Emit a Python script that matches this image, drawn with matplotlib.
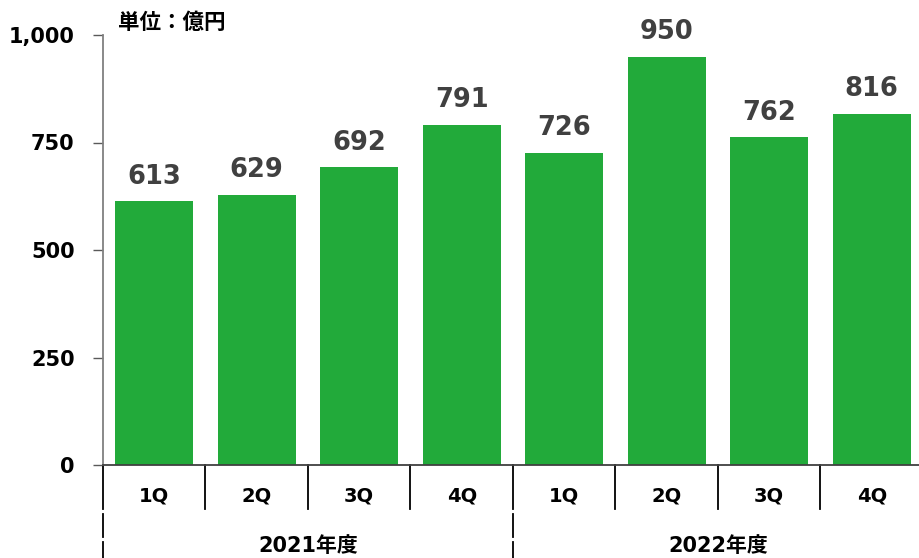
import matplotlib
matplotlib.use("Agg")
import matplotlib.pyplot as plt
from matplotlib.transforms import blended_transform_factory

quarters = ["1Q", "2Q", "3Q", "4Q", "1Q", "2Q", "3Q", "4Q"]
years = ["2021年度", "2022年度"]
values = [613, 629, 692, 791, 726, 950, 762, 816]
yticks = [0, 250, 500, 750, 1000]
ytick_labels = ["0", "250", "500", "750", "1,000"]
unit_label = "単位：億円"

plt.rcParams['font.family'] = ['DejaVu Sans', 'Noto Sans CJK JP']

W, H = 920, 558
fig = plt.figure(figsize=(W / 100, H / 100), dpi=100)
ax_left, ax_right, ax_bottom, ax_top = 103, 923, 465, 35
ax = fig.add_axes([ax_left / W, 1 - ax_bottom / H, (ax_right - ax_left) / W, (ax_bottom - ax_top) / H])

x = list(range(len(values)))
bar_color = "#22AA3A"
ax.bar(x, values, width=0.76, color=bar_color, zorder=2)
for xi, v in zip(x, values):
    ax.annotate(f"{v}", (xi, v), xytext=(0, 8.5), textcoords="offset points",
                ha="center", va="bottom", fontsize=18.5, fontweight="bold", color="#404040")

ax.set_xlim(-0.5, len(values) - 0.5)
ax.set_ylim(0, 1000)
ax.set_yticks(yticks)
ax.set_yticklabels(ytick_labels, fontsize=15, fontweight="bold", color="black")
ax.tick_params(axis="y", length=7, width=1, color="#595959", pad=13.5)
ax.set_xticks([])

for s in ["top", "right"]:
    ax.spines[s].set_visible(False)
ax.spines["left"].set_color("#808080")
ax.spines["left"].set_linewidth(1.3)
ax.spines["bottom"].set_color("#404040")
ax.spines["bottom"].set_linewidth(1.3)

trans = blended_transform_factory(ax.transData, ax.transAxes)
axh = ax_bottom - ax_top
def yfrac(px_below):
    return -px_below / axh

# quarter separators
for b in [0.5, 1.5, 2.5, 4.5, 5.5, 6.5]:
    ax.plot([b, b], [0, yfrac(44)], transform=trans, color="black", lw=1.3, clip_on=False)
# year separators (drawn as table-cell borders with small gaps)
for b in [-0.5, 3.5, 7.5]:
    for y0, y1 in [(0, 44), (49, 72), (77, 95)]:
        ax.plot([b, b], [yfrac(y0), yfrac(y1)], transform=trans, color="black", lw=1.3, clip_on=False)

for xi, q in zip(x, quarters):
    ax.text(xi, yfrac(31), q, transform=trans, ha="center", va="center",
            fontsize=14, fontweight="bold", color="black")
for i, yl in enumerate(years):
    ax.text(1.5 + 4 * i, yfrac(81), yl, transform=trans, ha="center", va="center",
            fontsize=15, fontweight="bold", color="black")

fig.text(118 / W, 1 - 22 / H, unit_label, ha="left", va="center", fontsize=15.5,
         fontweight="bold", family=["Noto Sans CJK JP", "DejaVu Sans"], color="black")

fig.savefig("out.png", dpi=100)
